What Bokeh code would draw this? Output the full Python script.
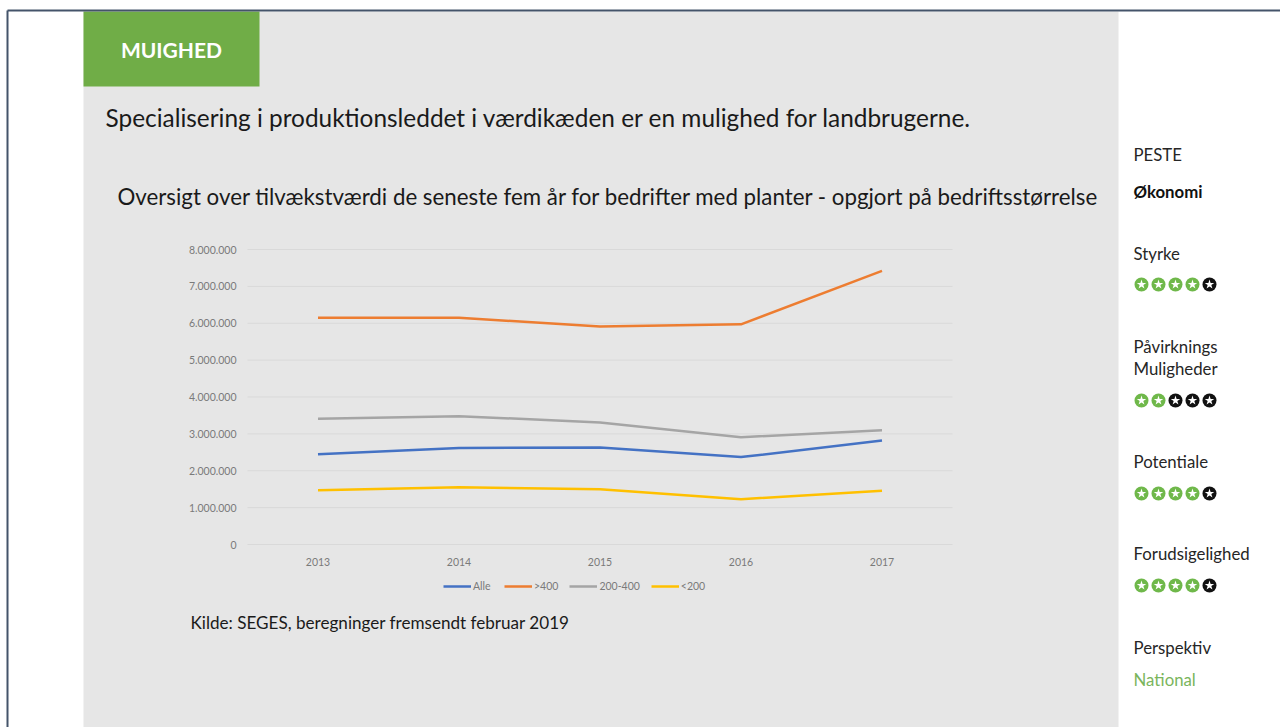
from bokeh.plotting import figure
from bokeh.models import Range1d, Legend, LegendItem
from bokeh.core.properties import value
from bokeh.embed import file_html
from bokeh.resources import INLINE

# ---- chart data: value added per farm type, by size group ----
years = ["2013", "2014", "2015", "2016", "2017"]
alle = [2450000, 2620000, 2630000, 2370000, 2820000]
over_400 = [6150000, 6150000, 5910000, 5970000, 7420000]
mellem_200_400 = [3410000, 3480000, 3310000, 2910000, 3100000]
under_200 = [1470000, 1550000, 1500000, 1230000, 1460000]
series_names = ["Alle", ">400", "200-400", "<200"]
series_colors = ["#4472c4", "#ed7d31", "#a5a5a5", "#ffc000"]
y_ticks = [0, 1000000, 2000000, 3000000, 4000000, 5000000, 6000000, 7000000, 8000000]

# ---- side panel ratings ----
rating_titles = ["Styrke", "Påvirknings\nMuligheder", "Potentiale", "Forudsigelighed"]
rating_scores = [4, 2, 4, 4]
rating_max = 5

W, H = 1280, 727
FONT = value("Lato")

# page is drawn in pixel coordinates (y grows downward)
p = figure(width=W, height=H, x_range=Range1d(0, W), y_range=Range1d(H, 0),
           x_axis_type=None, y_axis_type=None, title=None,
           toolbar_location=None, output_backend="svg",
           min_border=0, outline_line_color=None,
           background_fill_color="white", border_fill_color="white")
p.grid.visible = False

# chart plot area in page pixels
PL, PR, PT, PB = 247, 952, 249, 544
y_max = y_ticks[-1]
ky = y_max / (PB - PT)
kx = len(years) / (PR - PL)
p.extra_y_ranges = {"val": Range1d(start=-(H - PB) * ky, end=PB * ky)}
p.extra_x_ranges = {"idx": Range1d(start=-PL * kx, end=(W - PL) * kx)}

# page frame
p.quad(left=83, right=1118, top=11, bottom=H, fill_color="#e6e6e6", line_color=None)
p.quad(left=83, right=259, top=11, bottom=86, fill_color="#70ad47", line_color=None)
p.segment(x0=[7, 7], y0=[10, 10], x1=[W, 7], y1=[10, H], line_color="#44546a", line_width=2)

p.text(x=[171], y=[49], text=["MUIGHED"], text_font=FONT, text_font_size=value("21px"),
       text_font_style="bold", text_color="white", text_align="center", text_baseline="middle")
p.text(x=[105], y=[117], text=["Specialisering i produktionsleddet i værdikæden er en mulighed for landbrugerne."],
       text_font=FONT, text_font_size=value("24.4px"), text_color="#1a1a1a",
       text_align="left", text_baseline="middle")
p.text(x=[117], y=[196], text=["Oversigt over tilvækstværdi de seneste fem år for bedrifter med planter - opgjort på bedriftsstørrelse"],
       text_font=FONT, text_font_size=value("22.3px"), text_color="#1a1a1a",
       text_align="left", text_baseline="middle")
p.text(x=[190], y=[622], text=["Kilde: SEGES, beregninger fremsendt februar 2019"],
       text_font=FONT, text_font_size=value("17.1px"), text_color="#1a1a1a",
       text_align="left", text_baseline="middle")

# gridlines and value axis labels
n = len(years)
p.segment(x0=[0] * len(y_ticks), x1=[n] * len(y_ticks), y0=y_ticks, y1=y_ticks,
          x_range_name="idx", y_range_name="val", line_color="#d9d9d9", line_width=1)
tick_labels = [f"{t:,}".replace(",", ".") for t in y_ticks]
p.text(x=[236] * len(y_ticks), y=y_ticks, text=tick_labels, y_range_name="val",
       text_font=FONT, text_font_size=value("10.5px"), text_color="#7a7a7a",
       text_align="right", text_baseline="middle")
xc = [i + 0.5 for i in range(n)]
p.text(x=xc, y=[561] * n, text=years, x_range_name="idx",
       text_font=FONT, text_font_size=value("10.5px"), text_color="#7a7a7a",
       text_align="center", text_baseline="middle")

# series
renderers = []
for name, vals, col in zip(series_names, [alle, over_400, mellem_200_400, under_200], series_colors):
    r = p.line(x=xc, y=vals, x_range_name="idx", y_range_name="val",
               line_color=col, line_width=2.5, line_join="round")
    renderers.append((name, r))

legend = Legend(items=[LegendItem(label=nm, renderers=[r]) for nm, r in renderers],
                location=(443, H - 592), orientation="horizontal",
                glyph_width=28, glyph_height=12, label_height=12, label_standoff=2,
                spacing=11, padding=0, margin=0,
                label_text_font="Lato", label_text_font_size="10.5px", label_text_color="#7a7a7a",
                background_fill_alpha=0, border_line_alpha=0)
p.add_layout(legend)

# side panel
SX = 1133
side_txt = dict(text_font=FONT, text_font_size=value("16.8px"), text_align="left", text_baseline="middle")
p.text(x=[SX], y=[154], text=["PESTE"], text_color="#262626", **side_txt)
p.text(x=[SX], y=[191], text=["Økonomi"], text_color="#111111", text_font_style="bold", **side_txt)
title_y = [253, 346, 461, 553]
star_y = [284, 400, 493, 585]
for t, ty in zip(rating_titles, title_y):
    for k, line in enumerate(t.split("\n")):
        p.text(x=[SX], y=[ty + 22 * k], text=[line], text_color="#262626", **side_txt)
p.text(x=[SX], y=[647], text=["Perspektiv"], text_color="#262626", **side_txt)
p.text(x=[SX], y=[679], text=["National"], text_color="#7ab55c", **side_txt)

sx, sy, sc = [], [], []
for score, yy in zip(rating_scores, star_y):
    for j in range(rating_max):
        sx.append(1141 + 17 * j)
        sy.append(yy)
        sc.append("#6fb84a" if j < score else "#111111")
p.scatter(x=sx, y=sy, marker="circle", size=14, fill_color=sc, line_color=None)
p.scatter(x=sx, y=sy, marker="star", size=10, fill_color="white", line_color=None)

open("out.html", "w").write(file_html(p, INLINE))
